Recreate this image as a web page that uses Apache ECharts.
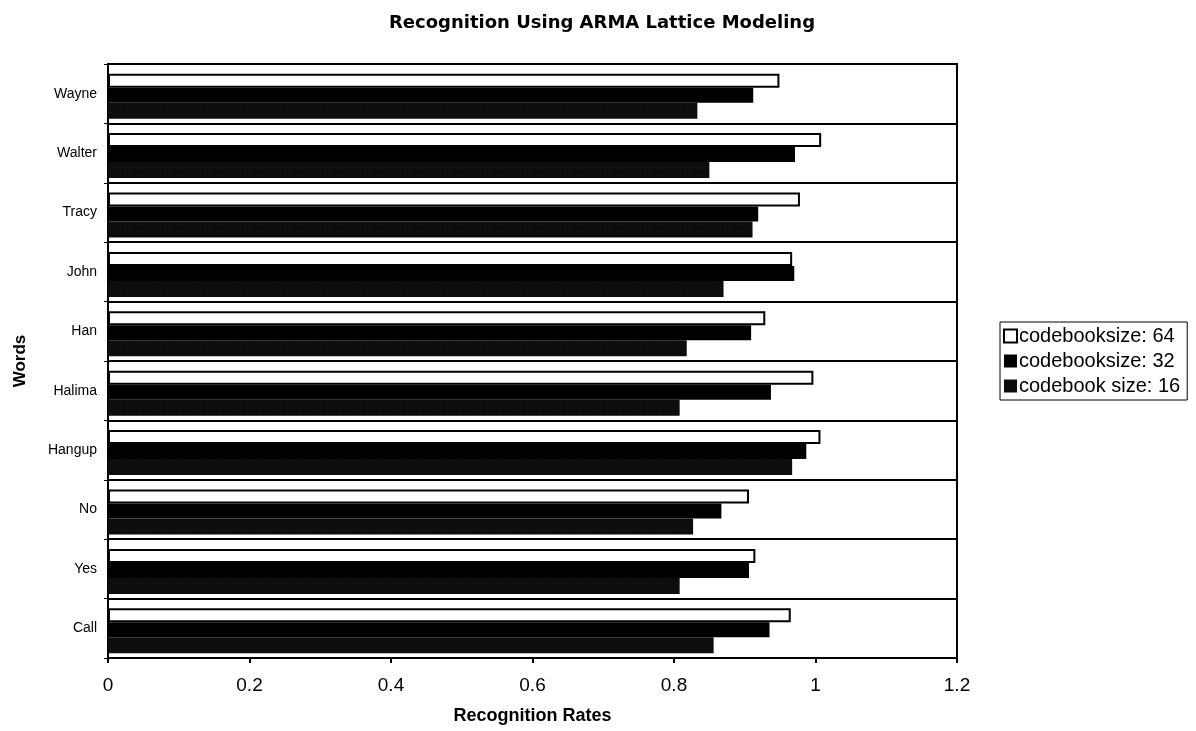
<!DOCTYPE html>
<html>
<head>
<meta charset="utf-8">
<script src="https://cdn.jsdelivr.net/npm/echarts@6/dist/echarts.min.js"></script>
<style>
html,body{margin:0;padding:0;background:#fff;}
#chart{width:1196px;height:731px;}
</style>
</head>
<body>
<div id="chart"></div>
<script>
const words = ['Call','Yes','No','Hangup','Halima','Han','John','Tracy','Walter','Wayne'];
const size16 = [0.856,0.808,0.827,0.967,0.808,0.818,0.870,0.911,0.850,0.833];
const size32 = [0.935,0.906,0.867,0.987,0.937,0.909,0.970,0.919,0.971,0.912];
const size64 = [0.965,0.915,0.906,1.007,0.997,0.929,0.967,0.978,1.008,0.949];
const xTicks = [0,0.2,0.4,0.6,0.8,1,1.2];
const spacer = [];

const chart = echarts.init(document.getElementById('chart'));
chart.setOption({
  backgroundColor:'#fff',
  animation:false,
  title:{
    text:'Recognition Using ARMA Lattice Modeling',
    left:597, top:9, textAlign:'center',
    textStyle:{fontFamily:'DejaVu Sans',fontWeight:'bold',fontSize:18,color:'#000'}
  },
  legend:{
    left:1000, top:322, orient:'vertical',
    data:['codebooksize: 64','codebooksize: 32','codebook size: 16'],
    itemWidth:13, itemHeight:13, itemGap:5,
    borderColor:'#000', borderWidth:1, padding:[4,7,4,3],
    icon:'rect',
    textStyle:{fontFamily:'Liberation Sans',fontSize:20,color:'#000',padding:[0,0,0,-3]}
  },
  grid:{left:108, right:239, top:64, bottom:73, show:true, borderColor:'#000', borderWidth:2, backgroundColor:'#fff'},
  xAxis:{
    type:'value', min:0, max:1.2, interval:0.2,
    name:'Recognition Rates', nameLocation:'middle', nameGap:49,
    nameTextStyle:{fontFamily:'Liberation Sans',fontWeight:'bold',fontSize:18,color:'#000'},
    axisLine:{show:true,lineStyle:{color:'#000',width:2}},
    axisTick:{show:true,length:5,lineStyle:{color:'#000',width:2}},
    splitLine:{show:false},
    axisLabel:{fontFamily:'Liberation Sans',fontSize:19,color:'#000',margin:18,
      formatter:function(v){const r=Math.round(v*10)/10;return xTicks.indexOf(r)>=0?String(r):'';}}
  },
  yAxis:{
    type:'category', data:words,
    name:'Words', nameLocation:'middle', nameGap:79, nameRotate:90,
    nameTextStyle:{fontFamily:'Liberation Sans',fontWeight:'bold',fontSize:17,color:'#000'},
    axisLine:{show:true,lineStyle:{color:'#000',width:2}},
    axisTick:{show:true,length:4,lineStyle:{color:'#000',width:1}},
    splitLine:{show:true,lineStyle:{color:'#000',width:2}},
    axisLabel:{fontFamily:'Liberation Sans',fontSize:14,color:'#000',margin:11}
  },
  series:[
    {name:'spacer', type:'bar', data:spacer, barWidth:5, barGap:'0%', silent:true,
      itemStyle:{color:'rgba(0,0,0,0)'}},
    {name:'codebooksize: 64', type:'bar', data:size64, barWidth:14, barGap:'0%',
      itemStyle:{color:'#fff', borderColor:'#000', borderWidth:2}},
    {name:'codebooksize: 32', type:'bar', data:size32, barWidth:15, barGap:'0%',
      itemStyle:{color:'#000'}},
    {name:'codebook size: 16', type:'bar', data:size16, barWidth:16, barGap:'0%',
      itemStyle:{color:'#0d0d0d', decal:{symbol:'rect',symbolSize:0.5,color:'rgba(255,255,255,0.22)',dashArrayX:[1,9],dashArrayY:[1,6]}}}
  ]
});
</script>
</body>
</html>
